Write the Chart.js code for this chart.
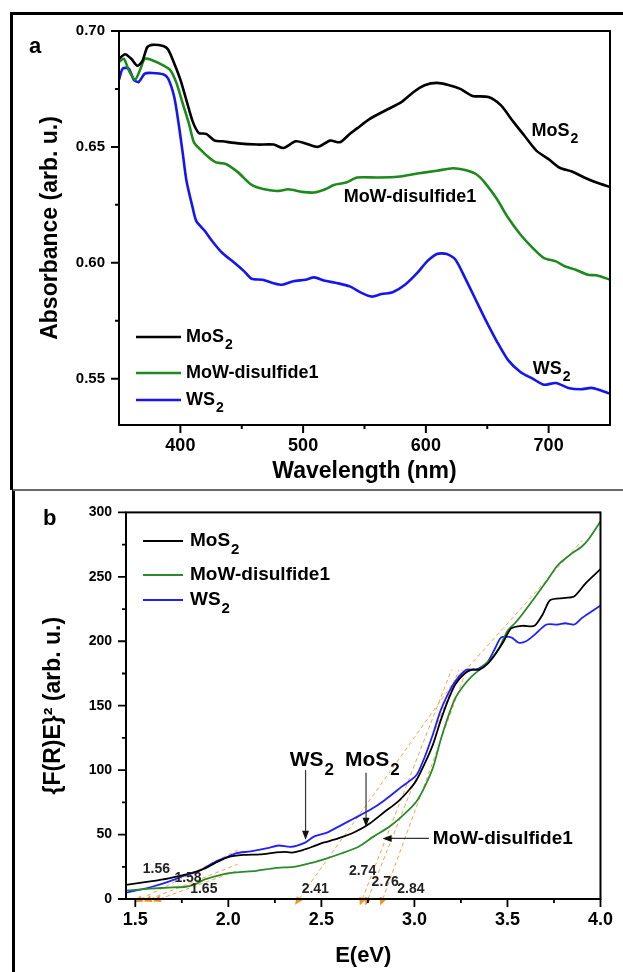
<!DOCTYPE html>
<html><head><meta charset="utf-8">
<script src="https://cdn.jsdelivr.net/npm/chart.js@4.4.0/dist/chart.umd.min.js"></script>
<style>
html,body{margin:0;padding:0;background:#fff;}
body{width:623px;height:972px;position:relative;overflow:hidden;}
canvas{position:absolute;left:0;}
#ca{top:0;} #cb{top:490px;}
.bd{position:absolute;background:#000;}
</style></head><body>
<canvas id="ca" width="623" height="489"></canvas>
<canvas id="cb" width="623" height="482"></canvas>
<div class="bd" style="left:10px;top:12px;width:613px;height:3px"></div>
<div class="bd" style="left:10px;top:12px;width:3px;height:478px"></div>
<div class="bd" style="left:12px;top:489px;width:3px;height:483px"></div>
<div class="bd" style="left:13px;top:489px;width:610px;height:2px;background:#6a6a6a"></div>
<script>
// ---------------- Panel a data (wavelength nm, absorbance) ----------------
const seriesNames = ['MoS₂', 'MoW-disulfide1', 'WS₂'];

const aMoS2_x = [350,355,360,365,369,373,377,386,390,395,400,405,410,415,421,428,434,447,463,476,484,494,502,512,522,530,538,544,554,567,580,590,599,609,619,628,638,651,661,671,680,690,700,709,719,729,739,750];
const aMoS2_y = [0.688,0.690,0.688,0.685,0.687,0.693,0.694,0.6935,0.692,0.686,0.679,0.670,0.661,0.656,0.6556,0.6527,0.6524,0.6515,0.651,0.651,0.6495,0.6524,0.6515,0.650,0.6527,0.652,0.6556,0.658,0.662,0.6657,0.6693,0.6737,0.6766,0.6776,0.6766,0.675,0.672,0.6715,0.668,0.661,0.655,0.6484,0.6447,0.641,0.6394,0.6368,0.6346,0.6327];

const aMoW_x = [350,354,358,363,367,371,377,386,392,397,402,407,411,416,423,429,437,447,457,463,473,480,488,499,509,518,525,535,544,560,577,593,609,622,632,641,648,658,667,677,687,696,706,713,722,732,739,750];
const aMoW_y = [0.6867,0.688,0.683,0.679,0.683,0.688,0.6874,0.6852,0.683,0.6773,0.6686,0.660,0.652,0.649,0.6455,0.6433,0.6426,0.639,0.634,0.6325,0.6313,0.631,0.6317,0.6306,0.6303,0.6317,0.6336,0.6346,0.6368,0.6368,0.6371,0.6385,0.6397,0.6408,0.640,0.6382,0.6346,0.6274,0.6194,0.6122,0.6064,0.6021,0.6006,0.5985,0.597,0.5948,0.5946,0.5927];

const aWS2_x = [350,353,358,362,366,371,377,386,390,395,399,402,405,410,413,420,426,434,444,452,458,467,476,483,492,502,509,518,528,538,548,556,564,573,583,593,601,609,617,624,632,640,648,658,667,677,687,696,706,716,726,735,742,750];
const aWS2_y = [0.679,0.6838,0.6838,0.679,0.678,0.6816,0.6819,0.6813,0.6795,0.6715,0.6585,0.647,0.6353,0.6238,0.618,0.6137,0.6093,0.6043,0.600,0.5963,0.5931,0.5927,0.5912,0.5905,0.592,0.5927,0.5937,0.5922,0.5912,0.5898,0.5869,0.5854,0.5865,0.5873,0.5905,0.5956,0.6006,0.6038,0.6038,0.6014,0.5934,0.5847,0.576,0.5659,0.558,0.5529,0.550,0.5474,0.5481,0.546,0.5454,0.546,0.545,0.5435];

const aXTicks = [400, 500, 600, 700];
const aXMinor = [450, 550, 650];
const aYTicks = [0.55, 0.60, 0.65, 0.70];
const aYMinor = [0.575, 0.625, 0.675];

// in-plot labels of panel a (left edge x in nm, vertical centre in absorbance)
const aNoteText = ['MoS₂', 'MoW-disulfide1', 'WS₂'];
const aNoteX = [686, 533, 687];
const aNoteY = [0.657, 0.6284, 0.5541];

// ---------------- Panel b data (E eV, {F(R)E}^2) ----------------
const bMoS2_x = [1.45,1.58,1.68,1.80,1.87,1.93,2.00,2.08,2.17,2.25,2.30,2.34,2.40,2.46,2.51,2.59,2.68,2.76,2.84,2.91,2.97,3.01,3.055,3.10,3.14,3.18,3.22,3.27,3.31,3.35,3.39,3.435,3.48,3.52,3.58,3.645,3.69,3.73,3.81,3.86,3.92,4.0];
const bMoS2_y = [11,13.6,16,20,23.5,28,32.5,34.2,34.7,36,36.6,36,38,41,43.7,47,52,58.6,67.7,75.4,84.4,92,105,120,138,154,166.7,175,178,178,182,190,200,210,212,212,221,232,233.6,235,245,256];

const bMoW_x = [1.45,1.58,1.70,1.77,1.83,1.87,1.96,2.04,2.15,2.25,2.36,2.44,2.53,2.61,2.70,2.78,2.865,2.95,3.01,3.055,3.10,3.14,3.18,3.22,3.27,3.31,3.35,3.41,3.456,3.50,3.54,3.58,3.645,3.71,3.77,3.835,3.90,3.94,4.0];
const bMoW_y = [6.5,8,9,9.5,12,15,18.8,20.6,21.9,24,25.2,27.8,31.6,35.5,40.6,48.4,56,66.4,75.4,87,102,123,141,156,166.7,173,178,186,195,208,214,221,233.6,246.5,259,267,273.5,280,293];

const bWS2_x = [1.45,1.52,1.59,1.68,1.77,1.84,1.93,2.00,2.04,2.12,2.21,2.27,2.335,2.41,2.46,2.53,2.59,2.675,2.76,2.84,2.93,3.01,3.055,3.10,3.14,3.18,3.22,3.28,3.33,3.39,3.435,3.466,3.52,3.56,3.60,3.645,3.71,3.77,3.81,3.86,3.90,3.94,4.0];
const bWS2_y = [4.9,7,9.5,13.5,18.5,21.5,28.9,33,35.5,37,39.4,41.5,40.4,43.6,48.4,51.5,56,62.5,69,76.7,87,96,110,128,146,159,169,178,178,183.4,195,203,203,199,200,205,213,213,214,213,218,222,227.7];

// Tauc tangent lines (start E, start value, end E, end value)
const tanStartE = [1.53, 1.58, 1.63, 2.38, 2.72, 2.75, 2.83, 3.24];
const tanStartV = [0, 0, 0, 0, 0, 0, 0, 172];
const tanEndE   = [2.05, 2.05, 2.05, 3.26, 3.20, 3.24, 3.28, 3.90];
const tanEndV   = [38, 27, 22, 178, 178, 178, 178, 278];

const bXTicks = [1.5, 2.0, 2.5, 3.0, 3.5, 4.0];
const bXMinor = [1.75, 2.25, 2.75, 3.25, 3.75];
const bYTicks = [0, 50, 100, 150, 200, 250, 300];
const bYMinor = [25, 75, 125, 175, 225, 275];

// band-gap values and their label anchors (left edge E, centre value)
const gapText = ['1.56', '1.58', '1.65', '2.41', '2.74', '2.76', '2.84'];
const gapX = [1.54, 1.71, 1.795, 2.394, 2.648, 2.77, 2.908];
const gapY = [23.2, 16.2, 7.7, 7.7, 21.7, 13.1, 7.7];

// labelled arrows of panel b
const bNoteText = ['WS₂', 'MoS₂', 'MoW-disulfide1'];
const bNoteX = [2.33, 2.627, 3.099];
const bNoteY = [107.5, 107.5, 46.4];
const arrFromE = [2.415, 2.74, 3.078];
const arrFromV = [100, 98, 47];
const arrToE   = [2.415, 2.74, 2.829];
const arrToV   = [46, 56, 47];

// ---------------- helpers ----------------
const FONT = "'Liberation Sans', Arial, Helvetica, sans-serif";
Chart.defaults.font.family = FONT;
Chart.defaults.color = '#000';

function pts(xs, ys) { return xs.map((x, i) => ({x: x, y: ys[i]})); }

function splitSub(t) {
  const out = []; let buf = '';
  for (const ch of t) {
    if (ch === '₂') { if (buf) out.push({t: buf, sub: false}); buf = ''; out.push({t: '2', sub: true}); }
    else buf += ch;
  }
  if (buf) out.push({t: buf, sub: false});
  return out;
}
function drawSub(ctx, text, x, y, size, color) {
  ctx.save();
  ctx.fillStyle = color || '#000';
  ctx.textBaseline = 'middle';
  ctx.textAlign = 'left';
  let cx = x;
  for (const p of splitSub(text)) {
    if (p.sub) {
      ctx.font = 'bold ' + Math.round(size * 0.8) + 'px ' + FONT;
      ctx.fillText(p.t, cx + 1, y + size * 0.45);
      cx += ctx.measureText(p.t).width + 1;
    } else {
      ctx.font = 'bold ' + size + 'px ' + FONT;
      ctx.fillText(p.t, cx, y);
      cx += ctx.measureText(p.t).width;
    }
  }
  ctx.restore();
}

const framePlugin = {
  id: 'frameTicks',
  afterDraw(chart, args, o) {
    const {ctx, chartArea: ca, scales: {x, y}} = chart;
    ctx.save();
    ctx.strokeStyle = '#000';
    ctx.lineWidth = o.lw;
    ctx.strokeRect(ca.left, ca.top, ca.right - ca.left, ca.bottom - ca.top);
    ctx.lineWidth = o.tw;
    ctx.beginPath();
    const tx = (vals, len) => vals.forEach(v => { const p = x.getPixelForValue(v); ctx.moveTo(p, ca.bottom); ctx.lineTo(p, ca.bottom + len); });
    const ty = (vals, len) => vals.forEach(v => { const p = y.getPixelForValue(v); ctx.moveTo(ca.left, p); ctx.lineTo(ca.left - len, p); });
    tx(o.xMajor, o.major); tx(o.xMinor, o.minor); ty(o.yMajor, o.major); ty(o.yMinor, o.minor);
    ctx.stroke();
    ctx.fillStyle = '#000';
    ctx.font = 'bold ' + o.letterSize + 'px ' + FONT;
    ctx.textBaseline = 'alphabetic';
    ctx.textAlign = 'left';
    ctx.fillText(o.letter, o.letterX, o.letterY);
    ctx.restore();
  }
};

const notesPlugin = {
  id: 'notes',
  afterDatasetsDraw(chart, args, o) {
    const {ctx, scales: {x, y}} = chart;
    ctx.save();
    // tangent arrowheads
    (o.heads || []).forEach(h => {
      const p0x = x.getPixelForValue(h.sx), p0y = y.getPixelForValue(h.sy);
      const p1x = x.getPixelForValue(h.ex), p1y = y.getPixelForValue(h.ey);
      let dx = p0x - p1x, dy = p0y - p1y; const L = Math.hypot(dx, dy); dx /= L; dy /= L;
      const tipX = p0x + dx * 7, tipY = p0y + dy * 7;
      const bx = p0x - dx * 1, by = p0y - dy * 1;
      ctx.fillStyle = '#f7901e';
      ctx.beginPath();
      ctx.moveTo(tipX, tipY);
      ctx.lineTo(bx - dy * 3.5, by + dx * 3.5);
      ctx.lineTo(bx + dy * 3.5, by - dx * 3.5);
      ctx.closePath(); ctx.fill();
    });
    // arrows
    (o.arrows || []).forEach(a => {
      const fx = x.getPixelForValue(a.fx), fy = y.getPixelForValue(a.fy);
      const tx = x.getPixelForValue(a.tx), ty = y.getPixelForValue(a.ty);
      let dx = tx - fx, dy = ty - fy; const L = Math.hypot(dx, dy); dx /= L; dy /= L;
      ctx.strokeStyle = '#333'; ctx.lineWidth = 1.2;
      ctx.beginPath(); ctx.moveTo(fx, fy); ctx.lineTo(tx - dx * 6, ty - dy * 6); ctx.stroke();
      ctx.fillStyle = '#111';
      ctx.beginPath(); ctx.moveTo(tx, ty);
      ctx.lineTo(tx - dx * 9 - dy * 3.5, ty - dy * 9 + dx * 3.5);
      ctx.lineTo(tx - dx * 9 + dy * 3.5, ty - dy * 9 - dx * 3.5);
      ctx.closePath(); ctx.fill();
    });
    // text labels
    (o.labels || []).forEach(l => drawSub(ctx, l.text, x.getPixelForValue(l.x), y.getPixelForValue(l.y), l.size, l.color));
    // legend
    const lg = o.legend;
    if (lg) {
      lg.rows.forEach((ry, i) => {
        const ds = chart.data.datasets[i];
        ctx.strokeStyle = ds.borderColor; ctx.lineWidth = lg.lw;
        ctx.beginPath(); ctx.moveTo(lg.x0, ry); ctx.lineTo(lg.x1, ry); ctx.stroke();
        drawSub(ctx, ds.label, lg.tx, ry, lg.size, '#000');
      });
    }
    ctx.restore();
  }
};

// ---------------- Panel a ----------------
const aColors = ['#000000', '#1c8a1c', '#1515f0'];
new Chart(document.getElementById('ca'), {
  type: 'line',
  data: {
    datasets: [
      {label: seriesNames[0], data: pts(aMoS2_x, aMoS2_y), borderColor: aColors[0]},
      {label: seriesNames[1], data: pts(aMoW_x, aMoW_y), borderColor: aColors[1]},
      {label: seriesNames[2], data: pts(aWS2_x, aWS2_y), borderColor: aColors[2]}
    ].map(d => Object.assign(d, {borderWidth: 2.6, pointRadius: 0, tension: 0.25, fill: false}))
  },
  options: {
    responsive: false, animation: false, devicePixelRatio: 1,
    layout: {padding: {top: 31, right: 13, bottom: 0, left: 0}},
    plugins: {
      legend: {display: false}, tooltip: {enabled: false},
      frameTicks: {lw: 2, tw: 2, major: 8, minor: 4, xMajor: aXTicks, xMinor: aXMinor, yMajor: aYTicks, yMinor: aYMinor,
                   letter: 'a', letterSize: 22, letterX: 29, letterY: 53},
      notes: {
        labels: aNoteText.map((t, i) => ({text: t, x: aNoteX[i], y: aNoteY[i], size: 18})),
        legend: {rows: [337, 373, 400], x0: 136, x1: 181, tx: 186, size: 18, lw: 2.6}
      }
    },
    scales: {
      x: {
        type: 'linear', min: 350, max: 750,
        grid: {display: false, drawTicks: false}, border: {display: false},
        afterBuildTicks: s => { s.ticks = aXTicks.map(v => ({value: v})); },
        afterFit: s => { s.height = 64; },
        ticks: {padding: 10, autoSkip: false, maxRotation: 0, color: '#000', font: {size: 18, weight: 'bold'}, callback: v => String(v)},
        title: {display: true, text: 'Wavelength (nm)', color: '#000', font: {size: 23, weight: 'bold'}, padding: {top: 0, bottom: 4}}
      },
      y: {
        type: 'linear', min: 0.53, max: 0.70,
        grid: {display: false, drawTicks: false}, border: {display: false},
        afterBuildTicks: s => { s.ticks = aYTicks.map(v => ({value: v})); },
        afterFit: s => { s.width = 119; },
        ticks: {padding: 14, autoSkip: false, color: '#000', font: {size: 15, weight: 'bold'}, callback: v => Number(v).toFixed(2)},
        title: {display: true, text: 'Absorbance (arb. u.)', color: '#000', font: {size: 23, weight: 'bold'}, padding: {top: 37, bottom: 0}}
      }
    }
  },
  plugins: [framePlugin, notesPlugin]
});

// ---------------- Panel b ----------------
const bColors = ['#000000', '#2a8a2a', '#2020ff'];
const tangentSets = tanStartE.map((s, i) => ({
  label: 'tangent' + (i + 1),
  data: [{x: s, y: tanStartV[i]}, {x: tanEndE[i], y: tanEndV[i]}],
  borderColor: '#f5a24e', borderWidth: 1, borderDash: [4, 3], pointRadius: 0, tension: 0, order: 2
}));
new Chart(document.getElementById('cb'), {
  type: 'line',
  data: {
    datasets: [
      {label: seriesNames[0], data: pts(bMoS2_x, bMoS2_y), borderColor: bColors[0]},
      {label: seriesNames[1], data: pts(bMoW_x, bMoW_y), borderColor: bColors[1]},
      {label: seriesNames[2], data: pts(bWS2_x, bWS2_y), borderColor: bColors[2]}
    ].map(d => Object.assign(d, {borderWidth: 1.8, pointRadius: 0, tension: 0.25, fill: false, order: 1})).concat(tangentSets)
  },
  options: {
    responsive: false, animation: false, devicePixelRatio: 1,
    layout: {padding: {top: 21, right: 16, bottom: 0, left: 0}},
    plugins: {
      legend: {display: false}, tooltip: {enabled: false},
      frameTicks: {lw: 2, tw: 1.8, major: 8, minor: 4, xMajor: bXTicks, xMinor: bXMinor, yMajor: bYTicks, yMinor: bYMinor,
                   letter: 'b', letterSize: 22, letterX: 43, letterY: 35},
      notes: {
        heads: tanStartE.map((s, i) => ({sx: s, sy: tanStartV[i], ex: tanEndE[i], ey: tanEndV[i]})).filter(h => h.sy === 0),
        arrows: arrFromE.map((f, i) => ({fx: f, fy: arrFromV[i], tx: arrToE[i], ty: arrToV[i]})),
        labels: bNoteText.map((t, i) => ({text: t, x: bNoteX[i], y: bNoteY[i], size: i < 2 ? 21 : 19}))
          .concat(gapText.map((t, i) => ({text: t, x: gapX[i], y: gapY[i], size: 14, color: '#222'}))),
        legend: {rows: [51, 85, 110], x0: 143, x1: 183, tx: 190, size: 19, lw: 1.8}
      }
    },
    scales: {
      x: {
        type: 'linear', min: 1.45, max: 4.0,
        grid: {display: false, drawTicks: false}, border: {display: false},
        afterBuildTicks: s => { s.ticks = bXTicks.map(v => ({value: v})); },
        afterFit: s => { s.height = 73; },
        ticks: {padding: 10, autoSkip: false, maxRotation: 0, color: '#000', font: {size: 18, weight: 'bold'}, callback: v => Number(v).toFixed(1)},
        title: {display: true, text: 'E(eV)', color: '#000', font: {size: 22, weight: 'bold'}, padding: {top: 0, bottom: 3}}
      },
      y: {
        type: 'linear', min: 0, max: 300,
        grid: {display: false, drawTicks: false}, border: {display: false},
        afterBuildTicks: s => { s.ticks = bYTicks.map(v => ({value: v})); },
        afterFit: s => { s.width = 126; },
        ticks: {padding: 14, autoSkip: false, color: '#000', font: {size: 14, weight: 'bold'}, callback: v => String(v)},
        title: {display: true, text: '{F(R)E}² (arb. u.)', color: '#000', font: {size: 23, weight: 'bold'}, padding: {top: 40, bottom: 0}}
      }
    }
  },
  plugins: [framePlugin, notesPlugin]
});
</script>
</body></html>
